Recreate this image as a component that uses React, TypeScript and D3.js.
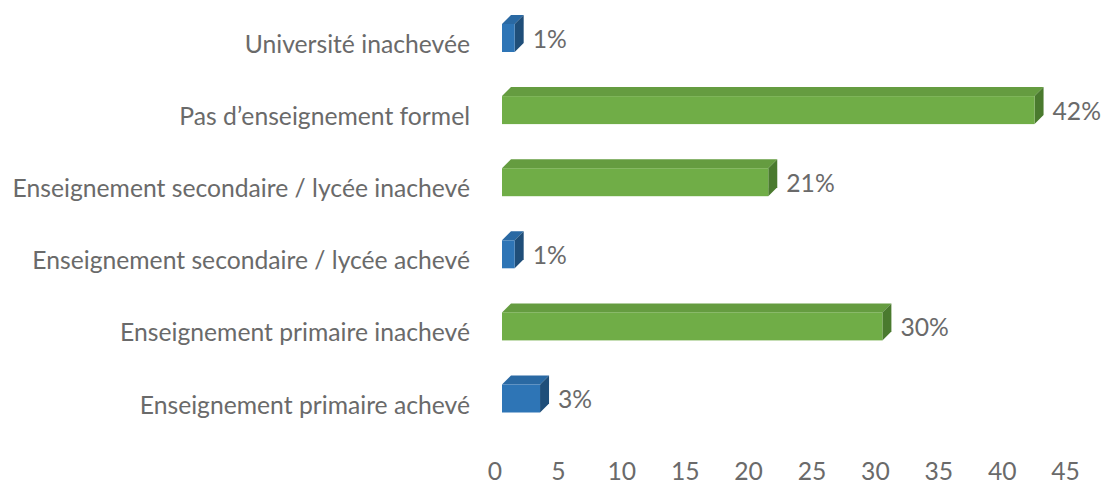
import React from "react";
import * as d3 from "d3";

const categories = [
  "Université inachevée",
  "Pas d’enseignement formel",
  "Enseignement secondaire / lycée inachevé",
  "Enseignement secondaire / lycée achevé",
  "Enseignement primaire inachevé",
  "Enseignement primaire achevé",
];
const values = [1, 42, 21, 1, 30, 3];
const seriesIndex = [0, 1, 1, 0, 1, 0];
const ticks = [0, 5, 10, 15, 20, 25, 30, 35, 40, 45];

const palettes = [
  { front: "#2E75B6", top: "#2A69A3", side: "#1F4E79" },
  { front: "#70AD47", top: "#659C40", side: "#4A7A2E" },
];

export default function App() {
  const W = 1102, H = 486;
  const x = d3.scaleLinear().domain([0, 45]).range([502, 502 + 45 * 12.68]);
  const y = d3.scalePoint<string>().domain(categories).range([38, 398.5]);
  const barH = 28;
  const dx = 9, dy = -9;
  const font = "Lato, 'Open Sans', sans-serif";
  const fs = 24.7;
  const grey = "#6a6a6a";

  return (
    <svg width={W} height={H} style={{ position: "absolute", left: 0, top: 0, background: "#fff" }}>
      {categories.map((c, i) => {
        const cy = y(c)!;
        const x0 = x(0), x1 = x(values[i]);
        const y0 = cy - barH / 2, y1 = cy + barH / 2;
        const p = palettes[seriesIndex[i]];
        return (
          <g key={c}>
            <polygon points={`${x0},${y0} ${x0 + dx},${y0 + dy} ${x1 + dx},${y0 + dy} ${x1},${y0}`} fill={p.top} />
            <polygon points={`${x1},${y0} ${x1 + dx},${y0 + dy} ${x1 + dx},${y1 + dy} ${x1},${y1}`} fill={p.side} />
            <rect x={x0} y={y0} width={x1 - x0} height={barH} fill={p.front} />
            <text x={470} y={cy + 15} textAnchor="end" fontFamily={font} fontSize={fs} fill={grey}>{c}</text>
            <text x={x1 + dx + 9} y={cy + 9.5} fontFamily={font} fontSize={fs} fill={grey}>{values[i]}%</text>
          </g>
        );
      })}
      {ticks.map((t) => (
        <text key={t} x={x(t) - 7} y={480} textAnchor="middle" fontFamily={font} fontSize={fs} fill={grey}>{t}</text>
      ))}
    </svg>
  );
}
